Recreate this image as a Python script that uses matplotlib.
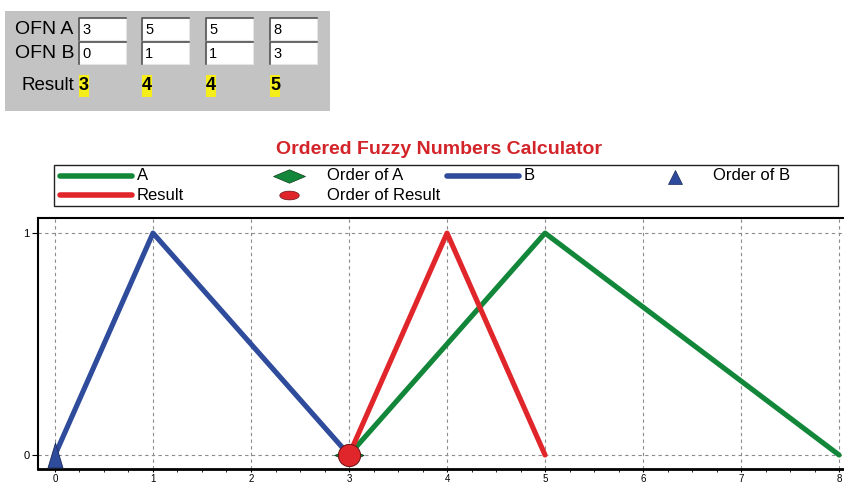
import numpy as np
import matplotlib
matplotlib.use('Agg')
import matplotlib.pyplot as plt
from matplotlib.patches import Rectangle
from matplotlib.path import Path

plt.rcParams['font.family'] = ['Liberation Sans', 'DejaVu Sans']

# Ordered fuzzy numbers (four characteristic points each)
ofn_a = [3, 5, 5, 8]
ofn_b = [0, 1, 1, 3]
ofn_result = [3, 4, 4, 5]
membership = [0, 1, 1, 0]

x_ticks = [0, 1, 2, 3, 4, 5, 6, 7, 8]
y_ticks = [0, 1]

GREEN = '#12873a'
BLUE = '#2f4b9c'
RED = '#e0262b'
TITLE_RED = '#d3242a'

# custom marker shapes
wide_diamond = Path([(-1, 0), (0, 0.42), (1, 0), (0, -0.42), (-1, 0)],
                    [Path.MOVETO, Path.LINETO, Path.LINETO, Path.LINETO, Path.CLOSEPOLY])
tall_triangle = Path([(0, 1), (-0.6, -1), (0.6, -1), (0, 1)],
                     [Path.MOVETO, Path.LINETO, Path.LINETO, Path.CLOSEPOLY])
t = np.linspace(0, 2 * np.pi, 40)
flat_ellipse = Path(np.column_stack([np.cos(t), 0.45 * np.sin(t)]), closed=True)

W, H = 845, 484
fig = plt.figure(figsize=(W / 100, H / 100), dpi=100)
fig.patch.set_facecolor('white')

# =====================================================================
# main chart
# =====================================================================
ax_left, ax_right, ax_top, ax_bottom = 38, 845, 218, 469
ax = fig.add_axes([ax_left / W, 1 - ax_bottom / H,
                   (ax_right - ax_left) / W, (ax_bottom - ax_top) / H])
ax.set_xlim(-0.173, 8.06)
ax.set_ylim(-0.063, 1.068)

ax.plot(ofn_a, membership, color=GREEN, lw=3.7, solid_capstyle='round', zorder=3)
ax.plot(ofn_b, membership, color=BLUE, lw=3.7, solid_capstyle='round', zorder=3)
ax.plot(ofn_result, membership, color=RED, lw=3.7, solid_capstyle='round', zorder=4)

ax.plot([ofn_a[0]], [membership[0]], marker=wide_diamond, ms=21, color=GREEN,
        mec='#0d3d1c', mew=0.6, ls='none', zorder=5)
ax.plot([ofn_b[0]], [membership[0]], marker=tall_triangle, ms=18, color=BLUE,
        mec='#1b2a5a', mew=0.6, ls='none', zorder=5, clip_on=True)
ax.plot([ofn_result[0]], [membership[0]], marker='o', ms=16, color=RED,
        mec='#6a1010', mew=0.7, ls='none', zorder=6)

ax.set_xticks(x_ticks)
ax.set_xticks(np.arange(0, 8.01, 0.25), minor=True)
ax.set_yticks(y_ticks)
ax.grid(True, which='major', ls=(0, (3, 3)), color='#8c8c8c', lw=0.8)
ax.tick_params(axis='x', which='major', length=2.5, width=0.8, labelsize=7, pad=1)
ax.tick_params(axis='x', which='minor', length=2.5, width=0.6)
ax.tick_params(axis='y', length=4, width=0.8, labelsize=8, pad=2)

ax.spines['right'].set_visible(False)
ax.spines['bottom'].set_linewidth(2)
ax.spines['left'].set_linewidth(1.5)
ax.spines['top'].set_linewidth(1.5)

# =====================================================================
# overlay in pixel coordinates: input panel, title and legend
# =====================================================================
ov = fig.add_axes([0, 0, 1, 1], zorder=10)
ov.set_xlim(0, W)
ov.set_ylim(H, 0)
ov.axis('off')
ov.patch.set_alpha(0)

# grey input panel
ov.add_patch(Rectangle((5, 11), 325, 100, facecolor='#c3c3c3', edgecolor='none'))
ov.text(15, 30, 'OFN A', fontsize=14, va='center', ha='left')
ov.text(15, 53, 'OFN B', fontsize=14, va='center', ha='left')
ov.text(22, 86, 'Result', fontsize=13.5, va='center', ha='left')

box_x = [79, 142, 206, 270]
for row_y, values in [(18, ofn_a), (42, ofn_b)]:
    for bx, v in zip(box_x, values):
        ov.add_patch(Rectangle((bx, row_y), 47, 22, facecolor='white',
                               edgecolor='#e4e4e4', lw=0.8))
        ov.plot([bx, bx, bx + 47], [row_y + 22, row_y, row_y], color='#555555', lw=1.2)
        ov.text(bx + 3, row_y + 11.5, str(v), fontsize=10.5, va='center', ha='left',
                family=['Liberation Sans Narrow', 'Liberation Sans'])

for bx, v in zip(box_x, ofn_result):
    ov.add_patch(Rectangle((bx, 75), 10, 22, facecolor='#f5ee1a', edgecolor='none'))
    ov.text(bx + 5, 86, str(v), fontsize=13, fontweight='bold', va='center', ha='center')

# title
ov.text(439, 150, 'Ordered Fuzzy Numbers Calculator', fontsize=14, fontweight='bold',
        color=TITLE_RED, ha='center', va='center')

# legend
ov.add_patch(Rectangle((54, 165), 784, 41, facecolor='white', edgecolor='#222222', lw=1))
r1, r2 = 176, 195
ov.plot([60, 132], [r1, r1], color=GREEN, lw=4, solid_capstyle='round')
ov.plot([60, 132], [r2, r2], color=RED, lw=4, solid_capstyle='round')
ov.plot([447, 519], [r1, r1], color=BLUE, lw=4, solid_capstyle='round')
ov.plot([289], [r1], marker=wide_diamond, ms=23, color=GREEN, mec='#0d3d1c', mew=0.5)
ov.plot([289], [r2], marker=flat_ellipse, ms=14, color=RED, mec='#6a1010', mew=0.5)
ov.plot([675], [r1 + 1], marker='^', ms=10, color=BLUE, mec='#1b2a5a', mew=0.5)

leg_font = 12
ov.text(137, r1, 'A', fontsize=leg_font, va='center')
ov.text(137, r2, 'Result', fontsize=leg_font, va='center')
ov.text(327, r1, 'Order of A', fontsize=leg_font, va='center')
ov.text(327, r2, 'Order of Result', fontsize=leg_font, va='center')
ov.text(524, r1, 'B', fontsize=leg_font, va='center')
ov.text(713, r1, 'Order of B', fontsize=leg_font, va='center')

fig.savefig('out.png', dpi=100)
